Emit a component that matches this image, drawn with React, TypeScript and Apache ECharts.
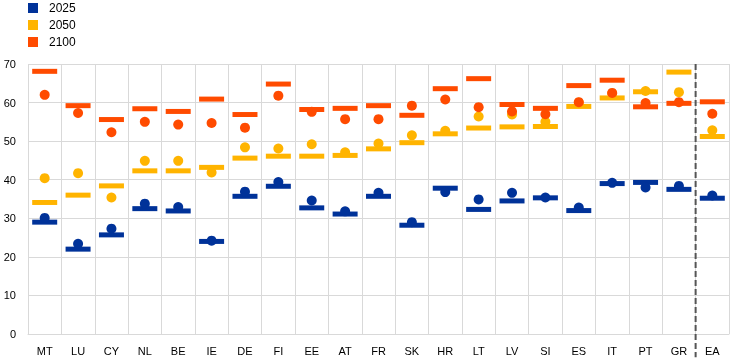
import React, { useEffect, useRef } from "react";
import * as echarts from "echarts";

const categories = ["MT", "LU", "CY", "NL", "BE", "IE", "DE", "FI", "EE", "AT", "FR", "SK", "HR", "LT", "LV", "SI", "ES", "IT", "PT", "GR", "EA"];
const years = ["2025", "2050", "2100"];
const colors = ["#003299", "#FFB400", "#FF4B00"];

// dash markers
const dash2025 = [29.0, 22.0, 25.7, 32.5, 31.9, 24.0, 35.7, 38.3, 32.7, 31.1, 35.7, 28.2, 37.8, 32.3, 34.5, 35.3, 32.0, 39.0, 39.3, 37.5, 35.2];
const dash2050 = [34.1, 36.0, 38.4, 42.3, 42.3, 43.2, 45.6, 46.1, 46.1, 46.3, 48.0, 49.6, 51.9, 53.4, 53.7, 53.8, 59.0, 61.2, 62.8, 67.9, 51.2];
const dash2100 = [68.1, 59.2, 55.6, 58.4, 57.7, 60.9, 56.9, 64.8, 58.2, 58.5, 59.2, 56.7, 63.6, 66.2, 59.5, 58.5, 64.4, 65.8, 58.9, 59.8, 60.2];
// dot markers
const dot2025 = [30.1, 23.4, 27.3, 33.8, 32.9, 24.2, 36.9, 39.4, 34.6, 31.8, 36.6, 29.0, 36.8, 34.9, 36.6, 35.4, 32.8, 39.2, 38.0, 38.4, 35.9];
const dot2050 = [40.4, 41.7, 35.4, 44.9, 44.9, 41.9, 48.4, 48.1, 49.2, 47.1, 49.4, 51.5, 52.7, 56.4, 56.9, 55.0, 60.0, 62.4, 63.0, 62.7, 52.8];
const dot2100 = [62.0, 57.3, 52.3, 55.0, 54.3, 54.7, 53.5, 61.8, 57.6, 55.7, 55.7, 59.2, 60.8, 58.8, 57.7, 57.0, 60.1, 62.5, 59.9, 60.1, 57.1];

const yTicks = [0, 10, 20, 30, 40, 50, 60, 70];
const separatorIndex = 20;
const separatorBottom = -6;

export default function App() {
  const ref = useRef<HTMLDivElement>(null);
  useEffect(() => {
    if (!ref.current) return;
    const chart = echarts.init(ref.current, null, { renderer: "svg" });
    const dashes = [dash2025, dash2050, dash2100];
    const dots = [dot2025, dot2050, dot2100];
    const series: any[] = [];
    dashes.forEach((d, i) => {
      series.push({
        name: years[i],
        type: "scatter",
        symbol: "rect",
        symbolSize: [25, 5],
        itemStyle: { color: colors[i], opacity: 1 },
        data: d,
        z: 2,
      });
    });
    dots.forEach((d, i) => {
      series.push({
        name: years[i],
        type: "scatter",
        symbol: "circle",
        symbolSize: 10,
        itemStyle: { color: colors[i], opacity: 1 },
        data: d,
        z: 3,
      });
    });
    series.push({
      type: "line",
      xAxisIndex: 1,
      yAxisIndex: 0,
      data: [
        [separatorIndex, yTicks[yTicks.length - 1]],
        [separatorIndex, separatorBottom],
      ],
      clip: false,
      silent: true,
      symbol: "none",
      lineStyle: { color: "#555555", width: 2, type: [6, 3] },
      z: 4,
    });
    chart.setOption({
      animation: false,
      textStyle: { fontFamily: "Arial, 'Liberation Sans', sans-serif" },
      legend: {
        data: years,
        orient: "vertical",
        left: 28,
        top: 2,
        padding: 0,
        itemWidth: 10,
        itemHeight: 10,
        itemGap: 5,
        icon: "rect",
        textStyle: { fontSize: 12, color: "#000", padding: [0, 0, 0, 6] },
      },
      grid: { left: 28, right: 15, top: 64, bottom: 26 },
      xAxis: [
        {
          type: "category",
          data: categories,
          boundaryGap: true,
          axisLine: { show: true, lineStyle: { color: "#d9d9d9" } },
          axisTick: { show: false },
          axisLabel: { fontSize: 11, color: "#000", margin: 11 },
          splitLine: { show: true, lineStyle: { color: "#d9d9d9", width: 1 } },
        },
        { type: "value", min: 0, max: categories.length, show: false },
      ],
      yAxis: {
        type: "value",
        min: 0,
        max: 70,
        interval: 10,
        axisLine: { show: false },
        axisTick: { show: false },
        axisLabel: { fontSize: 11, color: "#000", margin: 12 },
        splitLine: { lineStyle: { color: "#d9d9d9", width: 1 } },
      },
      series,
    });
    return () => chart.dispose();
  }, []);
  return <div ref={ref} style={{ width: 744, height: 360, position: "fixed", left: 0, top: 0 }} />;
}
